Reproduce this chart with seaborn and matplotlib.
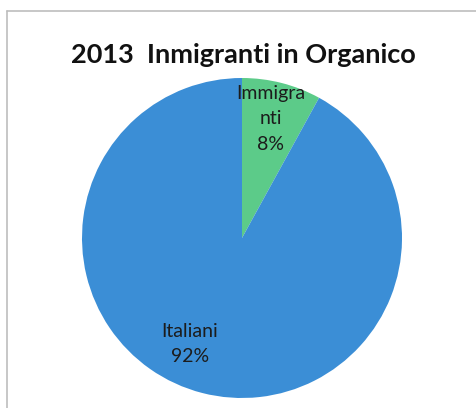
import matplotlib
matplotlib.use("Agg")
import matplotlib.pyplot as plt
from matplotlib.lines import Line2D
import seaborn as sns

categories = ["Immigra\nnti", "Italiani"]
values = [8, 92]
pct_labels = ["8%", "92%"]
colors = ["#5CCB89", "#3B8ED6"]
title = "2013  Inmigranti in Organico"

sns.set_theme(style="white")
plt.rcParams['font.family'] = ['Lato', 'DejaVu Sans']

W, H = 477, 408
fig = plt.figure(figsize=(W / 100, H / 100), dpi=100)
fig.patch.set_facecolor("white")

# frame lines (chart border)
fig.add_artist(Line2D([7 / W, 1], [1 - 11 / H, 1 - 11 / H], color="#bdbdbd", lw=1.2))
fig.add_artist(Line2D([7 / W, 7 / W], [0, 1 - 11 / H], color="#bdbdbd", lw=1.2))

cx, cy, r = 242, 238, 160
ax = fig.add_axes([(cx - r) / W, (H - cy - r) / H, 2 * r / W, 2 * r / H])
wedges, _ = ax.pie(values, colors=colors, startangle=90, counterclock=False,
                   radius=1, wedgeprops=dict(linewidth=0))
ax.set_xlim(-1, 1)
ax.set_ylim(-1, 1)
ax.set_axis_off()

label_pos = [((271 - cx) / r, (cy - 119) / r), ((190 - cx) / r, (cy - 344) / r)]
for (x, y), cat, p in zip(label_pos, categories, pct_labels):
    ax.text(x, y, f"{cat}\n{p}", ha="center", va="center", fontsize=14,
            color="#1c1c1c", linespacing=1.6)

fig.text(243 / W, 1 - 63 / H, title, ha="center", va="baseline",
         fontsize=19.5, fontweight="bold", color="#111111")

fig.savefig("out.png", dpi=100)
